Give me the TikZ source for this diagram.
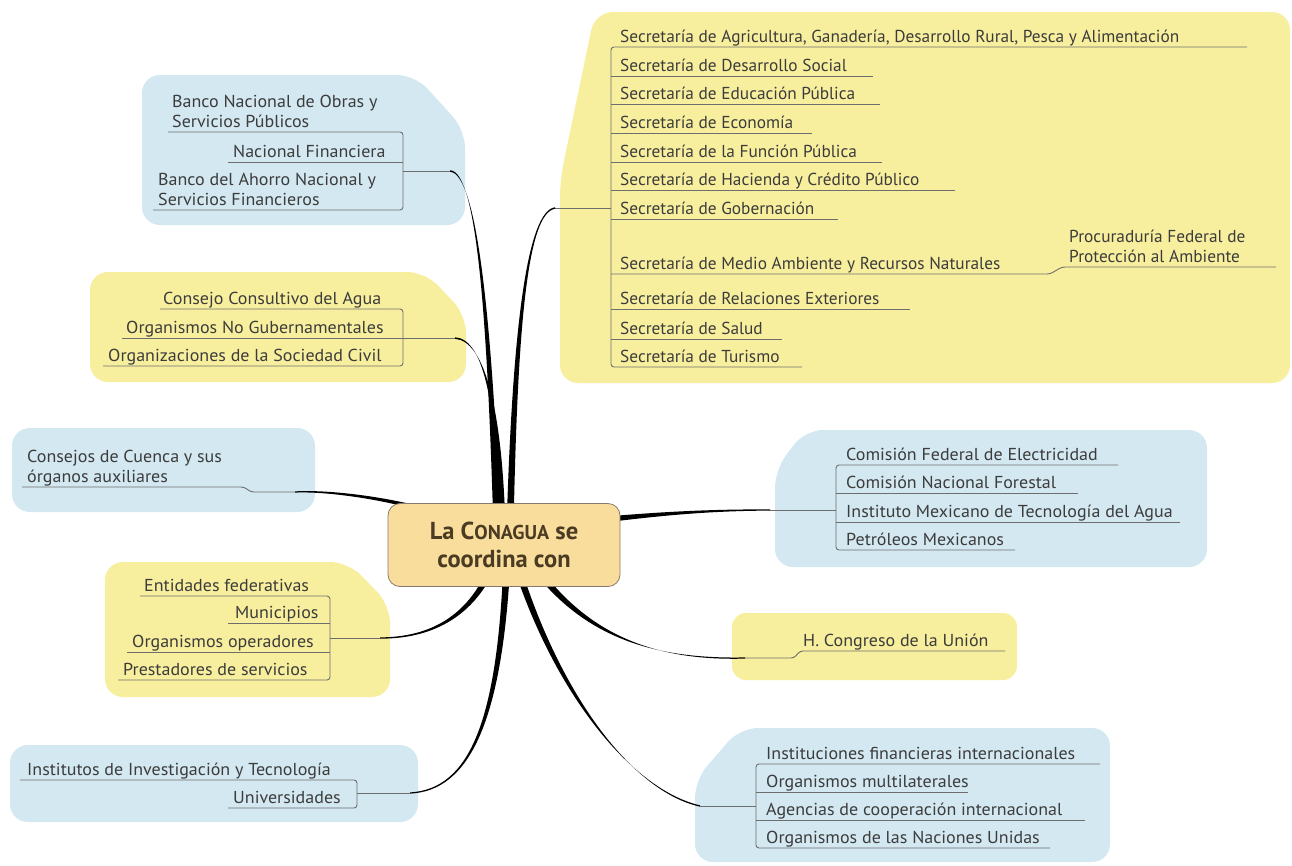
\documentclass[tikz,border=0pt]{standalone}
\usepackage{fontspec}
\setmainfont{PT Sans}
\newfontfamily\widefont[FakeStretch=1.04]{PT Sans}
\usetikzlibrary{calc}
\definecolor{bblue}{HTML}{D3E8F1}
\definecolor{byellow}{HTML}{F8EF9E}
\definecolor{cfill}{HTML}{F9DD9C}
\definecolor{cdraw}{HTML}{857B6C}
\definecolor{ctext}{HTML}{4A3B22}
\definecolor{ltext}{HTML}{3C3C3C}
\definecolor{uline}{HTML}{6E6E6E}
\newcommand\itm[4]{\node[item] (#1) at (#2,#3) {#4};}
\newcommand\sitm[4]{\node[sitem] (#1) at (#2,#3) {#4};}
% A, C1, C2, B, half-width vector at A, half-width vector at B
\newcommand\tapercurve[6]{%
  \fill[conn] ($(#1)+(#5)$) .. controls ($(#2)+0.7*(#5)$) and ($(#3)+0.45*(#6)$) .. ($(#4)+0.3*(#6)$)
    -- ($(#4)-0.3*(#6)$) .. controls ($(#3)-0.45*(#6)$) and ($(#2)-0.7*(#5)$) .. ($(#1)-(#5)$) -- cycle;}
\begin{document}
\begin{tikzpicture}[x=1pt,y=-1pt,
  blobb/.style={fill=bblue, rounded corners=18pt},
  bloby/.style={fill=byellow, rounded corners=18pt},
  item/.style={anchor=base west, inner sep=0pt, text=ltext, font=\widefont\fontsize{17.3}{20}\selectfont},
  sitem/.style={anchor=base west, inner sep=0pt, text=ltext, font=\fontsize{17.3}{20}\selectfont},
  ul/.style={draw=uline, line width=0.9pt, rounded corners=3pt},
  conn/.style={fill=black},
  centre/.style={draw=cdraw, fill=cfill, rounded corners=12pt, line width=0.8pt,
    minimum width=232pt, minimum height=83pt, align=center, text=ctext,
    font=\fontsize{24.5}{27.5}\selectfont\bfseries}]
\useasboundingbox[fill=white] (0,0) rectangle (1292,865);

% ---------- blobs ----------
\fill[blobb] (142,75) -- (415,75) -- (465,130) -- (465,225) -- (142,225) -- cycle;
\fill[bloby] (90,272) -- (425,272) -- (466,315) -- (466,382) -- (90,382) -- cycle;
\fill[blobb] (12,428) -- (315,428) -- (315,512) -- (12,512) -- cycle;
\fill[bloby] (105,562) -- (348,562) -- (390,605) -- (390,697) -- (105,697) -- cycle;
\fill[blobb] (10,745) -- (418,745) -- (418,822) -- (10,822) -- cycle;
\fill[bloby] (595,12) -- (1290,12) -- (1290,383) -- (560,383) -- (560,180) -- cycle;
\fill[blobb] (805,430) -- (1207,430) -- (1207,567) -- (775,567) -- (775,470) -- cycle;
\fill[bloby, rounded corners=14pt] (732,613) -- (1017,613) -- (1017,680) -- (732,680) -- cycle;
\fill[blobb] (740,728) -- (1110,728) -- (1110,862) -- (695,862) -- (695,780) -- cycle;

% ---------- underlines / brackets ----------
% Secretarias
\draw[ul] (1247,47) -- (611,47) -- (611,367) -- (802,367);
\foreach \y/\x in {76/873,104/880,133/812,162/882,190/955,219/838,309/910,339/782}
  \draw[ul] (611,\y) -- (\x,\y);
\draw[ul] (611,274) -- (1050,274) -- (1062,267) -- (1276,267);
\coordinate (e3) at (555,208);
\draw[ul] (e3) -- (611,208);
% Bancos
\draw[ul] (168,132) -- (403,132) -- (403,210) -- (153,210);
\draw[ul] (228,162) -- (403,162);
\coordinate (e1) at (450,171);
\draw[ul] (403,171) -- (e1);
% Consejo consultivo
\draw[ul] (160,309) -- (403,309) -- (403,366) -- (103,366);
\draw[ul] (122,338) -- (403,338);
\coordinate (e2) at (455,338);
\draw[ul] (403,338) -- (e2);
% Cuenca
\coordinate (e4) at (295,492);
\draw[ul] (22,487) -- (244,487) -- (251,492) -- (e4);
% Entidades
\draw[ul] (140,596) -- (330,596) -- (330,680) -- (118,680);
\draw[ul] (228,623) -- (330,623);
\draw[ul] (127,652) -- (330,652);
\coordinate (e9) at (380,638);
\draw[ul] (330,638) -- (e9);
% Institutos
\draw[ul] (20,780) -- (357,780) -- (357,808) -- (228,808);
\coordinate (e8) at (410,793);
\draw[ul] (357,793) -- (e8);
% Comision
\draw[ul] (1118,465) -- (836,465) -- (836,550) -- (1015,550);
\draw[ul] (836,493) -- (1078,493);
\draw[ul] (836,522) -- (1180,522);
\coordinate (e5) at (770,510);
\draw[ul] (e5) -- (836,510);
% Congreso
\coordinate (e6) at (745,658);
\draw[ul] (e6) -- (794,658) -- (800,651) -- (1005,651);
% Internacionales
\draw[ul] (1100,764) -- (756,764) -- (756,848) -- (1050,848);
\draw[ul] (756,792) -- (968,792);
\draw[ul] (756,820) -- (1085,820);
\coordinate (e7) at (700,806);
\draw[ul] (e7) -- (756,806);

% ---------- texts ----------
\sitm{s1}{620}{42.5}{Secretaría de Agricultura, Ganadería, Desarrollo Rural, Pesca y Alimentación}
\sitm{s2}{620}{71.5}{Secretaría de Desarrollo Social}
\sitm{s3}{620}{99.5}{Secretaría de Educación Pública}
\sitm{s4}{620}{128.5}{Secretaría de Economía}
\sitm{s5}{620}{157.5}{Secretaría de la Función Pública}
\sitm{s6}{620}{185.5}{Secretaría de Hacienda y Crédito Público}
\sitm{s7}{620}{214.5}{Secretaría de Gobernación}
\sitm{s8}{620}{269.5}{Secretaría de Medio Ambiente y Recursos Naturales}
\sitm{s9}{620}{304.5}{Secretaría de Relaciones Exteriores}
\sitm{s10}{620}{334.5}{Secretaría de Salud}
\sitm{s11}{620}{362.5}{Secretaría de Turismo}
\sitm{p1}{1069}{242.5}{Procuraduría Federal de}
\sitm{p2}{1069}{262.5}{Protección al Ambiente}

\itm{b1}{172}{107}{Banco Nacional de Obras y}
\itm{b1b}{172}{127}{Servicios Públicos}
\itm{b2}{233}{157.5}{Nacional Financiera}
\itm{b3}{158}{185.5}{Banco del Ahorro Nacional y}
\itm{b3b}{158}{205.5}{Servicios Financieros}

\itm{c1}{163}{304.5}{Consejo Consultivo del Agua}
\itm{c2}{126}{333.5}{Organismos No Gubernamentales}
\itm{c3}{108}{361.5}{Organizaciones de la Sociedad Civil}

\itm{q1}{27}{462.5}{Consejos de Cuenca y sus}
\itm{q1b}{27}{482.5}{órganos auxiliares}

\itm{f1}{144}{591.5}{Entidades federativas}
\itm{f2}{235}{618.5}{Municipios}
\itm{f3}{132}{647.5}{Organismos operadores}
\itm{f4}{123}{675.5}{Prestadores de servicios}

\itm{i1}{27}{775.5}{Institutos de Investigación y Tecnología}
\itm{i2}{233}{803.5}{Universidades}

\itm{m1}{846}{460.5}{Comisión Federal de Electricidad}
\itm{m2}{846}{488.5}{Comisión Nacional Forestal}
\itm{m3}{846}{517.5}{Instituto Mexicano de Tecnología del Agua}
\itm{m4}{846}{545.5}{Petróleos Mexicanos}

\itm{h1}{803}{646.5}{H. Congreso de la Unión}

\itm{n1}{766}{759.5}{Instituciones financieras internacionales}
\itm{n2}{766}{787.5}{Organismos multilaterales}
\itm{n3}{766}{815.5}{Agencias de cooperación internacional}
\itm{n4}{766}{843.5}{Organismos de las Naciones Unidas}

% ---------- connectors ----------
\coordinate (a1) at (497,530); \coordinate (a2) at (502,530); \coordinate (a3) at (510,530);
\coordinate (a4) at (440,515); \coordinate (a5) at (600,520); \coordinate (a6) at (530,560);
\coordinate (a7) at (515,560); \coordinate (a8) at (507,560); \coordinate (a9) at (495,560);
\tapercurve{a1}{490,330}{478,172}{e1}{3.5,0}{0,2.5}
\tapercurve{a2}{500,410}{485,340}{e2}{3.5,0}{0,2.5}
\tapercurve{a3}{515,320}{528,212}{e3}{3.5,0}{0,2.5}
\tapercurve{a4}{400,500}{330,490}{e4}{0,2.5}{0,2}
\tapercurve{a5}{650,515}{700,510}{e5}{0,3}{0,2}
\tapercurve{a6}{585,640}{660,660}{e6}{2.9,-2}{0,2}
\tapercurve{a7}{555,690}{630,790}{e7}{3.3,-1}{-0.5,2}
\tapercurve{a8}{500,720}{470,790}{e8}{3.5,0}{0,2}
\tapercurve{a9}{470,625}{420,638}{e9}{3.2,1.2}{0,2}

% ---------- centre ----------
\node[centre] (centre) at (504,545) {La C{\fontsize{20}{22}\selectfont ONAGUA} se\\coordina con};
\end{tikzpicture}
\end{document}
